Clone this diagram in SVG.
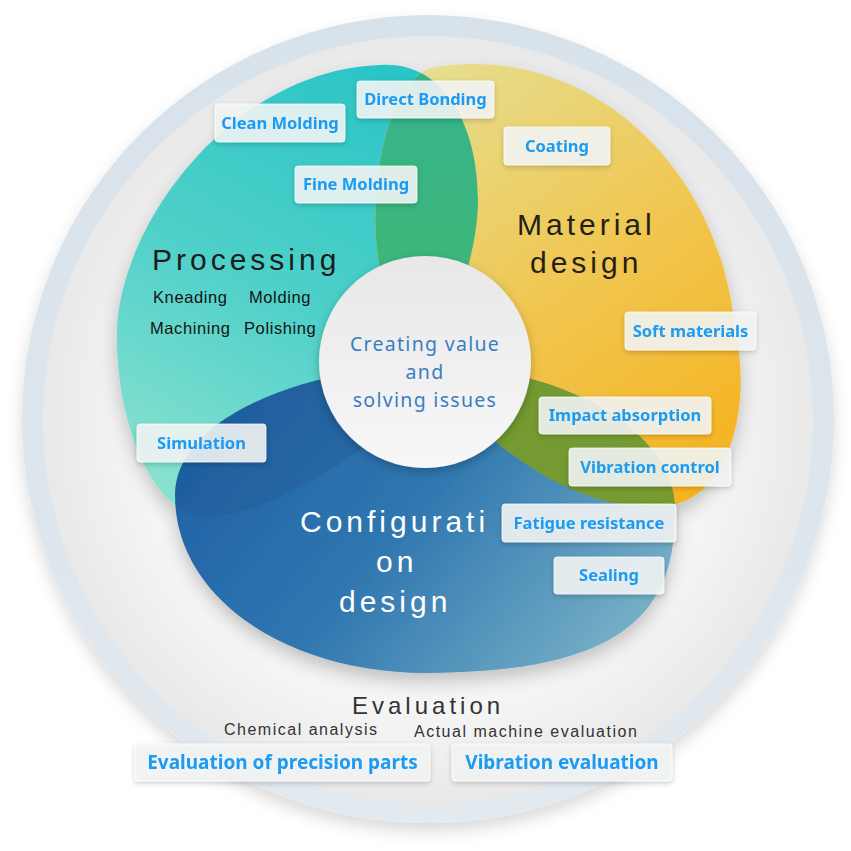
<svg xmlns="http://www.w3.org/2000/svg" width="851" height="851" viewBox="0 0 851 851">
<defs>
<style>
.lbl rect{fill:#f4f6f6;fill-opacity:.88;stroke:#ffffff;stroke-opacity:.7;stroke-width:1}
.lbl text{font-family:"Noto Sans","DejaVu Sans",sans-serif;font-weight:bold;font-size:16.5px;fill:#1b9bf2;text-anchor:middle}
.lbl.big text{font-size:19px}
.title{font-family:"Liberation Sans",Arial,sans-serif;font-size:30px;letter-spacing:4px}
.sub{font-family:"Liberation Sans",Arial,sans-serif;font-size:16.5px;letter-spacing:.6px;fill:#141414}
.eval{font-family:"Liberation Sans",Arial,sans-serif;fill:#333333}
.center{font-family:"Noto Sans","DejaVu Sans",sans-serif;font-size:19.5px;letter-spacing:1.3px;fill:#3b7ec0;text-anchor:middle}
</style>
<path id="tealP" d="M380,65 C440,60 478,120 478,200 C478,280 420,420 330,470 C280,500 230,522 195,515 C150,505 117,420 117,340 C114,230 230,70 380,65 Z"/>
<path id="yelP" d="M430,68 C580,40 720,160 735,330 C755,420 720,500 670,505 C600,515 530,475 470,420 C400,360 370,280 376,200 C380,130 400,80 430,68 Z"/>
<path id="blueP" d="M175,495 C175,420 300,368 425,366 C560,364 675,430 675,510 C675,600 640,673 425,673 C290,673 175,600 175,495 Z"/>
<clipPath id="cTeal"><use href="#tealP"/></clipPath>
<clipPath id="cYel"><use href="#yelP"/></clipPath>
<linearGradient id="gTeal" x1="0.65" y1="0" x2="0.2" y2="1">
<stop offset="0" stop-color="#2cc5c6"/><stop offset="0.5" stop-color="#4fd0c9"/><stop offset="1" stop-color="#8be2d0"/>
</linearGradient>
<linearGradient id="gYel" x1="0.2" y1="0" x2="0.8" y2="1">
<stop offset="0" stop-color="#e6dd8e"/><stop offset="0.5" stop-color="#f0c752"/><stop offset="1" stop-color="#f6b321"/>
</linearGradient>
<linearGradient id="gGreen" x1="0" y1="0" x2="0" y2="1">
<stop offset="0" stop-color="#33b38c"/><stop offset="1" stop-color="#4cbb66"/>
</linearGradient>
<linearGradient id="gBlue" x1="0" y1="0.3" x2="1" y2="0.8">
<stop offset="0" stop-color="#1f62a6"/><stop offset="0.45" stop-color="#3077b0"/><stop offset="1" stop-color="#7cb4c8"/>
</linearGradient>
<linearGradient id="gOlive" x1="0" y1="0" x2="1" y2="1">
<stop offset="0" stop-color="#6e9c38"/><stop offset="1" stop-color="#7b992c"/>
</linearGradient>
<linearGradient id="gRing" x1="0" y1="0" x2="0" y2="1">
<stop offset="0" stop-color="#d8e2ea"/><stop offset="1" stop-color="#e2e9ef"/>
</linearGradient>
<radialGradient id="gInner" cx="0.5" cy="0.5" r="0.5">
<stop offset="0.75" stop-color="#f5f5f5"/><stop offset="1" stop-color="#e9e9e9"/>
</radialGradient>
<linearGradient id="gCircle" x1="0" y1="0" x2="0" y2="1">
<stop offset="0" stop-color="#e8e8e8"/><stop offset="1" stop-color="#f7f7f7"/>
</linearGradient>
<filter id="fOuter" x="-10%" y="-10%" width="120%" height="125%">
<feDropShadow dx="0" dy="8" stdDeviation="8" flood-color="#000" flood-opacity="0.15"/>
</filter>
<filter id="fBlob" x="-10%" y="-10%" width="120%" height="125%">
<feDropShadow dx="0" dy="8" stdDeviation="9" flood-color="#000" flood-opacity="0.22"/>
</filter>
<filter id="fCircle" x="-20%" y="-20%" width="140%" height="145%">
<feDropShadow dx="0" dy="3" stdDeviation="5" flood-color="#000" flood-opacity="0.25"/>
</filter>
<filter id="fLbl" x="-10%" y="-20%" width="120%" height="160%">
<feDropShadow dx="0" dy="2" stdDeviation="2.5" flood-color="#000" flood-opacity="0.22"/>
</filter>
</defs>

<g id="ring">
<ellipse cx="428" cy="419" rx="406" ry="404" fill="url(#gRing)" filter="url(#fOuter)"/>
<ellipse cx="428" cy="420" rx="385" ry="384" fill="url(#gInner)"/>
</g>

<g id="areas" filter="url(#fBlob)">
<g id="processing-area"><use href="#tealP" fill="url(#gTeal)"/></g>
<g id="material-area"><use href="#yelP" fill="url(#gYel)"/></g>
<g id="overlap-teal-yellow" clip-path="url(#cTeal)"><use href="#yelP" fill="url(#gGreen)"/></g>
<g id="configuration-area"><use href="#blueP" fill="url(#gBlue)"/></g>
<g id="overlap-blue-yellow" clip-path="url(#cYel)"><use href="#blueP" fill="url(#gOlive)"/></g>
<g id="overlap-blue-teal" clip-path="url(#cTeal)"><use href="#blueP" fill="#1c4f80" fill-opacity="0.22"/></g>
</g>

<g id="center">
<circle cx="425" cy="362" r="106" fill="url(#gCircle)" filter="url(#fCircle)"/>
<text class="center" x="425" y="351">Creating value</text>
<text class="center" x="425" y="379">and</text>
<text class="center" x="425" y="407">solving issues</text>
</g>

<g id="processing-text">
<text class="title" x="152" y="270" fill="#1c1c1c">Processing</text>
<text class="sub" x="153" y="303">Kneading</text>
<text class="sub" x="249" y="303">Molding</text>
<text class="sub" x="150" y="334">Machining</text>
<text class="sub" x="244" y="334">Polishing</text>
</g>

<g id="material-text">
<text class="title" x="517" y="235" fill="#231f17">Material</text>
<text class="title" x="530" y="273" fill="#231f17">design</text>
</g>

<g id="configuration-text">
<text class="title" x="300" y="532" fill="#ffffff">Configurati</text>
<text class="title" x="376" y="572" fill="#ffffff">on</text>
<text class="title" x="339" y="612" fill="#ffffff">design</text>
</g>

<g id="evaluation-text">
<text class="eval" x="352" y="714" font-size="24" letter-spacing="4">Evaluation</text>
<text class="eval" x="224" y="735" font-size="16" letter-spacing="1.5">Chemical analysis</text>
<text class="eval" x="414" y="737" font-size="16" letter-spacing="1.5">Actual machine evaluation</text>
</g>

<g id="labels" filter="url(#fLbl)">
<g id="clean-molding" class="lbl"><rect x="215" y="104" width="130" height="38" rx="3"/><text x="280" y="129">Clean Molding</text></g>
<g id="direct-bonding" class="lbl"><rect x="357" y="81" width="137" height="37" rx="3"/><text x="425.5" y="105">Direct Bonding</text></g>
<g id="coating" class="lbl"><rect x="504" y="127" width="106" height="38" rx="3"/><text x="557" y="152">Coating</text></g>
<g id="fine-molding" class="lbl"><rect x="295" y="166" width="122" height="37" rx="3"/><text x="356" y="190">Fine Molding</text></g>
<g id="soft-materials" class="lbl"><rect x="625" y="312" width="131" height="38" rx="3"/><text x="690.5" y="337">Soft materials</text></g>
<g id="impact-absorption" class="lbl"><rect x="539" y="397" width="172" height="37" rx="3"/><text x="625" y="421">Impact absorption</text></g>
<g id="vibration-control" class="lbl"><rect x="569" y="448" width="162" height="38" rx="3"/><text x="650" y="473">Vibration control</text></g>
<g id="fatigue-resistance" class="lbl"><rect x="502" y="504" width="174" height="38" rx="3"/><text x="589" y="529">Fatigue resistance</text></g>
<g id="sealing" class="lbl"><rect x="554" y="557" width="110" height="37" rx="3"/><text x="609" y="581">Sealing</text></g>
<g id="simulation" class="lbl"><rect x="137" y="424" width="129" height="38" rx="3"/><text x="201.5" y="449">Simulation</text></g>
<g id="evaluation-precision" class="lbl big"><rect x="135" y="744" width="295" height="37" rx="3"/><text x="282.5" y="769">Evaluation of precision parts</text></g>
<g id="vibration-evaluation" class="lbl big"><rect x="452" y="744" width="220" height="37" rx="3"/><text x="562" y="769">Vibration evaluation</text></g>
</g>
</svg>
